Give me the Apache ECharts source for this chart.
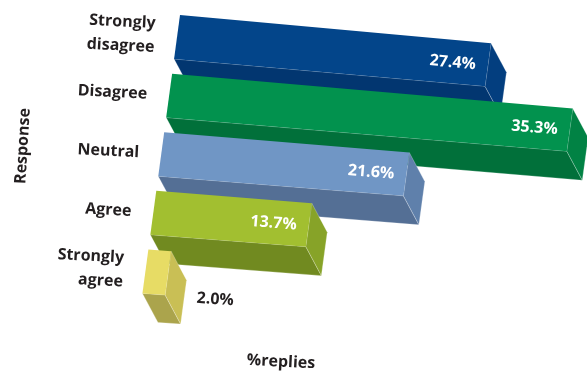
<!DOCTYPE html>
<html>
<head>
<meta charset="utf-8">
<style>
  html, body { margin: 0; padding: 0; background: #ffffff; }
  #chart { width: 587px; height: 378px; }
</style>
<script src="https://cdn.jsdelivr.net/npm/echarts@6/dist/echarts.min.js"></script>
</head>
<body>
<div id="chart"></div>
<script>
// Survey responses, share of replies in percent
const categories = ['Strongly\ndisagree', 'Disagree', 'Neutral', 'Agree', 'Strongly\nagree'];
const replies = [27.4, 35.3, 21.6, 13.7, 2.0];

// Face colours per bar: lit face, underside, end cap
const faceColors = ['#03458a', '#02924e', '#7096c5', '#a2bf30', '#e7dc65'];
const underColors = ['#023670', '#01703a', '#546f95', '#718a20', '#aba44c'];
const capColors = ['#033e7f', '#018244', '#5f80ab', '#87a328', '#c9bf55'];

const axisTitleX = '%replies';
const axisTitleY = 'Response';

// Oblique view of the flat bar layout
const view = {
  shear: -0.135,        // leftward lean of vertical edges
  slope: 0.0912,        // downward run of bar length at the top
  slopeDecay: 0.0000652,// flattening of that run lower down
  depthX: 15.5,
  depthY: 29,
  labelGap: 22
};

const textColor = '#231f20';
const fontFamily = '"Open Sans", "Noto Sans", sans-serif';

function renderBar(params, api) {
  const cs = params.coordSys;
  const val = api.value(0);
  const idx = api.value(1);
  const end = api.coord([val, idx]);
  const start = api.coord([0, idx]);
  const x0 = api.coord([0, 0])[0];
  const half = api.size([0, 1])[1] * 0.75 / 2;
  const top = end[1] - half;
  const bot = end[1] + half;

  function runAt(py) {
    return view.slope - view.slopeDecay * (py - cs.y);
  }
  function P(px, py, d) {
    return [
      px + view.shear * (py - cs.y) + d * view.depthX,
      py + (px - x0) * runAt(py) + d * view.depthY
    ];
  }

  const edge = { stroke: 'rgba(255,255,255,0.35)', lineWidth: 0.7 };
  const children = [];

  // underside
  children.push({
    type: 'polygon',
    shape: { points: [P(start[0], bot, 0), P(end[0], bot, 0), P(end[0], bot, 1), P(start[0], bot, 1)] },
    style: Object.assign({ fill: underColors[idx] }, edge)
  });
  // end cap
  children.push({
    type: 'polygon',
    shape: { points: [P(end[0], top, 0), P(end[0], top, 1), P(end[0], bot, 1), P(end[0], bot, 0)] },
    style: Object.assign({ fill: capColors[idx] }, edge)
  });
  // lit face
  children.push({
    type: 'polygon',
    shape: { points: [P(start[0], top, 0), P(end[0], top, 0), P(end[0], bot, 0), P(start[0], bot, 0)] },
    style: { fill: faceColors[idx] }
  });

  // value label
  const label = val.toFixed(1) + '%';
  const inside = val >= 5;
  let anchor, align, fill;
  if (inside) {
    anchor = P(end[0] - 12, end[1] + 1, 0);
    align = 'right';
    fill = '#ffffff';
  } else {
    const a = P(end[0], end[1], 1);
    anchor = [a[0] + 13, a[1] - 4];
    align = 'left';
    fill = textColor;
  }
  children.push({
    type: 'text',
    x: anchor[0],
    y: anchor[1],
    rotation: -Math.atan(runAt(end[1])),
    style: {
      text: label,
      fill: fill,
      align: align,
      verticalAlign: 'middle',
      fontSize: 16,
      fontWeight: 700,
      fontFamily: fontFamily
    }
  });

  // category label
  const c = P(start[0], end[1], 0);
  children.push({
    type: 'text',
    x: c[0] - view.labelGap,
    y: c[1] - 1.5,
    rotation: -0.05,
    style: {
      text: categories[idx],
      fill: textColor,
      align: 'right',
      verticalAlign: 'middle',
      fontSize: 16,
      fontWeight: 700,
      lineHeight: 24,
      fontFamily: fontFamily
    }
  });

  return { type: 'group', children: children };
}

const chart = echarts.init(document.getElementById('chart'), null, { renderer: 'canvas' });

chart.setOption({
  animation: false,
  backgroundColor: '#ffffff',
  grid: { left: 181, right: 3.1, top: 7.7, height: 293, containLabel: false },
  xAxis: { type: 'value', min: 0, max: 35.5, show: false },
  yAxis: { type: 'category', data: categories, inverse: true, show: false },
  series: [{
    type: 'custom',
    coordinateSystem: 'cartesian2d',
    clip: false,
    renderItem: renderBar,
    encode: { x: 0, y: 1 },
    data: replies.map((v, i) => [v, i])
  }],
  graphic: [
    {
      type: 'text',
      x: 23,
      y: 146,
      rotation: Math.PI / 2 - 0.06,
      style: {
        text: axisTitleY,
        fill: textColor,
        align: 'center',
        verticalAlign: 'middle',
        textAlign: 'center',
        textVerticalAlign: 'middle',
        fontSize: 16,
        fontWeight: 700,
        fontFamily: fontFamily
      }
    },
    {
      type: 'text',
      x: 281,
      y: 362,
      rotation: -0.05,
      style: {
        text: axisTitleX,
        fill: textColor,
        align: 'center',
        verticalAlign: 'middle',
        textAlign: 'center',
        textVerticalAlign: 'middle',
        fontSize: 16,
        fontWeight: 700,
        fontFamily: fontFamily
      }
    }
  ]
});
</script>
</body>
</html>
